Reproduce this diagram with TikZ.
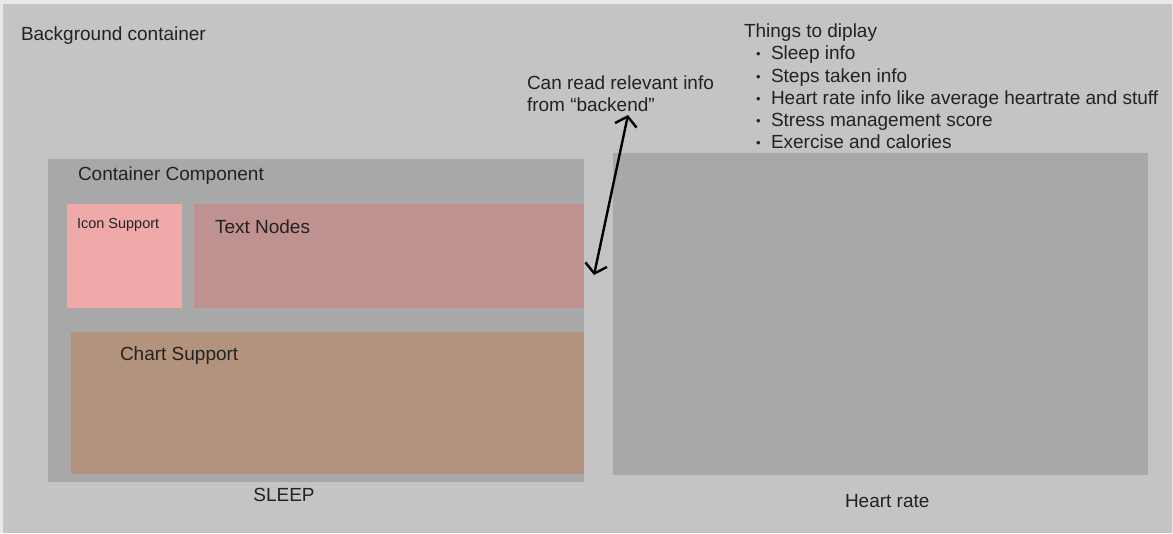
\documentclass[tikz,border=0pt]{standalone}
\usepackage{fontspec}
\setmainfont{Liberation Sans}
\usetikzlibrary{arrows.meta}
\definecolor{pagebg}{HTML}{E9E9E9}
\definecolor{bggrey}{HTML}{C4C4C4}
\definecolor{boxgrey}{HTML}{A8A8A8}
\definecolor{iconpink}{HTML}{F0A9A9}
\definecolor{textrose}{HTML}{C09191}
\definecolor{chartbrown}{HTML}{B4937E}
\definecolor{txt}{HTML}{222222}
\begin{document}
\begin{tikzpicture}[x=1pt,y=-1pt,
  panel/.style={draw=none, inner sep=0pt, outer sep=0pt, anchor=north west},
  lbl/.style={anchor=base west, inner sep=0pt, outer sep=0pt, text=txt, font=\fontsize{19}{22}\selectfont},
  small/.style={lbl, font=\fontsize{14.5}{17}\selectfont},
  bul/.style={anchor=base west, inner sep=0pt, text=txt, font=\fontsize{13}{15}\selectfont}]
\useasboundingbox (0,0) rectangle (1173,533);
\fill[pagebg] (0,0) rectangle (1173,533);
% panels
\node[panel, fill=bggrey, minimum width=1169pt, minimum height=529pt] (bg) at (3,4) {};
\node[panel, fill=boxgrey, minimum width=536pt, minimum height=323pt] (container) at (48,159) {};
\node[panel, fill=iconpink, minimum width=115pt, minimum height=104pt] (icon) at (67,204) {};
\node[panel, fill=textrose, minimum width=390pt, minimum height=104pt] (textnodes) at (194,204) {};
\node[panel, fill=chartbrown, minimum width=513pt, minimum height=142pt] (chart) at (71,332) {};
\node[panel, fill=boxgrey, minimum width=535pt, minimum height=322pt] (heart) at (613,153) {};
% labels
\node[lbl] (lbg) at (21,40.5) {Background container};
\node[lbl] (lcont) at (78,180) {Container Component};
\node[small] (licon) at (77,228) {Icon Support};
\node[lbl] (ltext) at (215,233) {Text Nodes};
\node[lbl] (lchart) at (120,360) {Chart Support};
\node[lbl, anchor=base] (lsleep) at (284,501) {SLEEP};
\node[lbl] (lheart) at (845,507) {Heart rate};
\node[lbl] (lread1) at (527,89) {Can read relevant info};
\node[lbl] (lread2) at (527,111) {from “backend"};
\node[lbl] (lthings) at (744,37) {Things to diplay};
\node[bul] (b1) at (756,58) {•};
\node[lbl] (t1) at (771,59) {Sleep info};
\node[bul] (b2) at (756,81) {•};
\node[lbl] (t2) at (771,82) {Steps taken info};
\node[bul] (b3) at (756,103) {•};
\node[lbl] (t3) at (771,104) {Heart rate info like average heartrate and stuff};
\node[bul] (b4) at (756,125) {•};
\node[lbl] (t4) at (771,126) {Stress management score};
\node[bul] (b5) at (756,147) {•};
\node[lbl] (t5) at (771,148) {Exercise and calories};
% arrow
\coordinate (atop) at (628,115);
\coordinate (abot) at (594,275);
\draw[line width=2.4pt, black, {Straight Barb[length=9pt,width=22pt]}-{Straight Barb[length=9pt,width=22pt]}] (atop) -- (abot);
\end{tikzpicture}
\end{document}
